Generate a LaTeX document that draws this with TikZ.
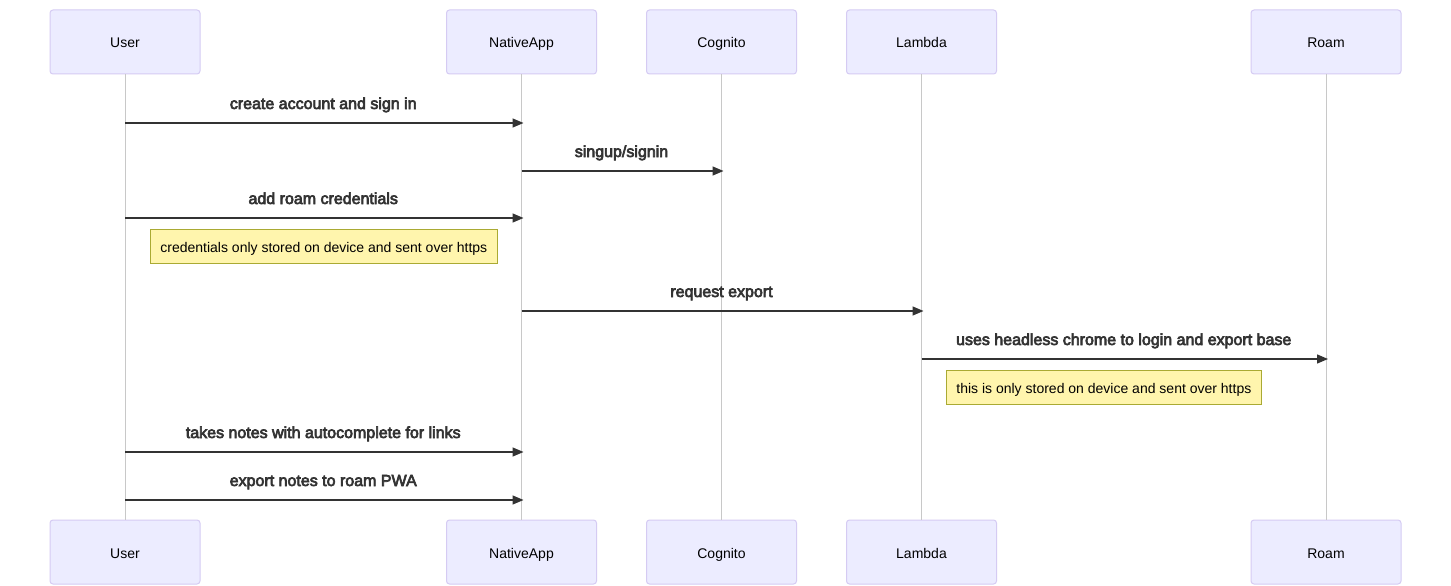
\documentclass[tikz,border=0pt]{standalone}
\usepackage{fontspec}
\setmainfont{Liberation Sans}
\newfontfamily\msgfont{Liberation Sans}[FakeBold=4]
\usepackage{tikz}
\usetikzlibrary{arrows.meta}
\definecolor{actorfill}{HTML}{ECECFF}
\definecolor{actorline}{HTML}{D5CBF3}
\definecolor{notefill}{HTML}{FFF5AD}
\definecolor{noteline}{HTML}{AAAA33}
\definecolor{msgcolor}{HTML}{333333}
\definecolor{lifecolor}{HTML}{C8C8C8}

\begin{document}
\begin{tikzpicture}[x=1pt, y=-1pt,
  actor/.style={rectangle, rounded corners=3pt, draw=actorline, fill=actorfill, line width=1pt,
    minimum width=150pt, minimum height=64pt, inner sep=0pt, text height=13pt, text depth=1pt,
    font=\fontsize{14}{16}\selectfont},
  lifeline/.style={draw=lifecolor, line width=0.8pt},
  msg/.style={draw=msgcolor, line width=1.4pt, -{Triangle[length=11pt, width=9pt]}, shorten >=-2pt},
  msglabel/.style={text=msgcolor, font=\msgfont\fontsize{16}{18}\selectfont, inner sep=0pt,
    text height=11.5pt, text depth=3.5pt},
  note/.style={rectangle, draw=noteline, fill=notefill, line width=0.8pt, anchor=north west,
    minimum height=34pt, inner xsep=10pt, text height=13pt, text depth=1pt,
    font=\fontsize{14}{16}\selectfont}]
\useasboundingbox[fill=white] (0,0) rectangle (1451,586);

% Actors, top and bottom
\node[actor] (userT) at (125,42) {User};
\node[actor] (appT) at (521.5,42) {NativeApp};
\node[actor] (cogT) at (721.5,42) {Cognito};
\node[actor] (lamT) at (921.5,42) {Lambda};
\node[actor] (roamT) at (1326,42) {Roam};
\node[actor] (userB) at (125,552) {User};
\node[actor] (appB) at (521.5,552) {NativeApp};
\node[actor] (cogB) at (721.5,552) {Cognito};
\node[actor] (lamB) at (921.5,552) {Lambda};
\node[actor] (roamB) at (1326,552) {Roam};

% Lifelines
\foreach \a in {user, app, cog, lam, roam}
  \draw[lifeline] (\a T.south) -- (\a B.north);

% Messages
\draw[msg] (userT |- 0,123) -- (appT |- 0,123)
  node[msglabel, midway, yshift=18pt] {create account and sign in};
\draw[msg] (appT |- 0,171) -- (cogT |- 0,171)
  node[msglabel, midway, yshift=18pt] {singup/signin};
\draw[msg] (userT |- 0,218) -- (appT |- 0,218)
  node[msglabel, midway, yshift=18pt] {add roam credentials};
\node[note] (note1) at (150,229) {credentials only stored on device and sent over https};
\draw[msg] (appT |- 0,311) -- (lamT |- 0,311)
  node[msglabel, midway, yshift=18pt] {request export};
\draw[msg] (lamT |- 0,359) -- (roamT |- 0,359)
  node[msglabel, midway, yshift=18pt] {uses headless chrome to login and export base};
\node[note] (note2) at (946,370) {this is only stored on device and sent over https};
\draw[msg] (userT |- 0,452) -- (appT |- 0,452)
  node[msglabel, midway, yshift=18pt] {takes notes with autocomplete for links};
\draw[msg] (userT |- 0,500) -- (appT |- 0,500)
  node[msglabel, midway, yshift=18pt] {export notes to roam PWA};
\end{tikzpicture}
\end{document}
